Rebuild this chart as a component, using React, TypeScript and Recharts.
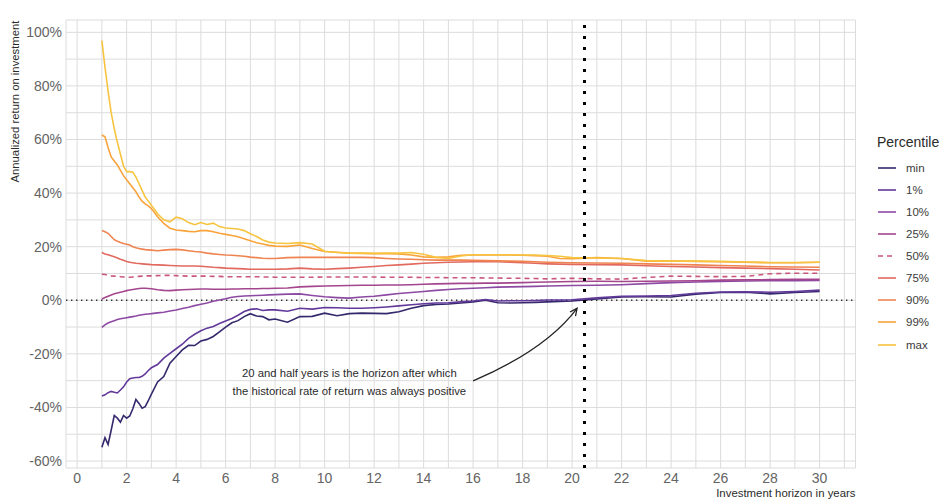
import React from 'react';
import { LineChart, Line, XAxis, YAxis, CartesianGrid, ReferenceLine, ReferenceDot } from 'recharts';

const horizons = [
  1, 1.125, 1.25, 1.375, 1.5, 1.625, 1.75, 1.875, 2, 2.125, 2.25, 2.375, 2.5, 2.625, 2.75, 2.875, 3,
  3.25, 3.5, 3.75, 4, 4.25, 4.5, 4.75, 5, 5.25, 5.5, 5.75, 6, 6.25, 6.5, 6.75, 7, 7.25, 7.5, 7.75, 8,
  8.5, 9, 9.5, 10, 10.5, 11, 11.5, 12, 12.5, 13, 13.5, 14, 14.5, 15, 15.5, 16, 16.5, 17, 17.5, 18, 18.5, 19, 19.5, 20,
  21, 22, 23, 24, 25, 26, 27, 28, 29, 30,
];

const pMin = [
  -54.9, -51.3, -53.8, -48.5, -43.0, -44.0, -45.5, -43.0, -44.0, -43.2, -40.5, -37.0, -38.5, -40.3, -39.7, -37.5, -35.0,
  -30.5, -28.5, -23.5, -21.0, -18.5, -16.8, -16.9, -15.2, -14.6, -13.5, -11.8, -10.0, -8.4, -7.6, -6.1, -5.0, -5.9, -6.1, -7.3, -7.0,
  -8.2, -6.1, -6.0, -4.8, -5.8, -5.0, -4.8, -4.9, -5.0, -4.3, -3.0, -2.0, -1.6, -1.4, -1.0, -0.6, 0.0, -0.9, -1.0, -0.9, -0.8, -0.6, -0.4, -0.3,
  0.5, 1.2, 1.3, 1.2, 2.3, 2.9, 3.0, 2.4, 2.9, 3.3,
];

const p1 = [
  -35.7, -35.3, -34.5, -34.0, -34.3, -34.6, -33.5, -32.3, -30.5, -29.3, -29.0, -28.8, -28.8, -28.4, -27.5, -26.2, -25.2,
  -24.0, -21.6, -19.8, -18.1, -16.4, -14.2, -12.7, -11.4, -10.4, -9.8, -8.7, -7.7, -6.8, -5.6, -4.2, -3.4, -3.2, -3.8, -3.6, -3.6,
  -4.1, -3.0, -3.3, -2.7, -2.8, -3.0, -3.0, -2.8, -2.5, -2.1, -1.7, -1.3, -1.0, -0.9, -0.6, -0.3, 0.3, -0.3, -0.2, -0.2, -0.1, 0.1, 0.1, 0.2,
  0.9, 1.5, 1.6, 1.8, 2.6, 3.1, 3.2, 3.0, 3.3, 3.8,
];

const p10 = [
  -10.1, -9.2, -8.5, -8.0, -7.6, -7.2, -6.9, -6.7, -6.5, -6.3, -6.1, -5.9, -5.6, -5.4, -5.2, -5.1, -5.0,
  -4.7, -4.5, -4.0, -3.6, -3.1, -2.6, -2.0, -1.5, -1.0, -0.4, 0.1, 0.6, 1.1, 1.4, 1.6, 1.7, 1.8, 1.9, 2.0, 2.1,
  2.3, 2.4, 1.8, 1.3, 1.0, 0.8, 1.2, 1.5, 2.0, 2.5, 2.9, 3.3, 3.7, 4.0, 4.3, 4.5, 4.7, 4.9, 5.0, 5.1, 5.2, 5.3, 5.4, 5.5,
  5.6, 5.8, 6.2, 6.6, 6.8, 7.0, 7.2, 7.3, 7.3, 7.4,
];

const p25 = [
  0.5, 1.0, 1.5, 2.0, 2.4, 2.7, 3.0, 3.3, 3.6, 3.8, 4.0, 4.2, 4.4, 4.5, 4.5, 4.4, 4.3,
  3.9, 3.7, 3.6, 3.8, 3.9, 4.0, 4.1, 4.2, 4.2, 4.1, 4.1, 4.1, 4.2, 4.2, 4.3, 4.3, 4.3, 4.4, 4.4, 4.5,
  4.6, 5.0, 5.2, 5.3, 5.4, 5.5, 5.6, 5.6, 5.7, 5.7, 5.8, 6.0, 6.1, 6.2, 6.3, 6.3, 6.4, 6.4, 6.5, 6.6, 6.7, 6.8, 6.9, 7.0,
  7.1, 7.0, 7.1, 7.2, 7.3, 7.5, 7.6, 7.7, 7.8, 7.8,
];

const p50 = [
  9.7, 9.6, 9.3, 9.1, 9.0, 8.9, 8.8, 8.7, 8.6, 8.6, 8.7, 8.8, 8.9, 9.0, 9.1, 9.1, 9.1,
  9.2, 9.3, 9.3, 9.2, 9.1, 9.0, 9.0, 9.0, 9.0, 8.9, 8.9, 8.8, 8.8, 8.8, 8.8, 8.8, 8.8, 8.7, 8.7, 8.6,
  8.6, 8.6, 8.6, 8.7, 8.7, 8.7, 8.7, 8.7, 8.6, 8.6, 8.6, 8.5, 8.5, 8.4, 8.4, 8.4, 8.3, 8.3, 8.2, 8.2, 8.1, 8.0, 8.1, 8.2,
  8.0, 7.9, 8.5, 9.0, 8.9, 8.8, 8.9, 9.9, 10.1, 10.1,
];

const p75 = [
  17.8, 17.3, 17.0, 16.6, 16.2, 15.8, 15.3, 14.9, 14.5, 14.2, 14.0, 13.8, 13.7, 13.6, 13.5, 13.4, 13.3,
  13.2, 13.1, 13.0, 12.9, 12.8, 12.8, 12.8, 12.7, 12.5, 12.3, 12.2, 12.0, 11.9, 11.8, 11.7, 11.6, 11.6, 11.6, 11.6, 11.6,
  11.7, 12.0, 11.7, 11.6, 11.8, 12.0, 12.3, 12.6, 13.0, 13.2, 13.5, 13.8, 14.0, 14.2, 14.3, 14.4, 14.4, 14.4, 14.2, 14.0, 13.8, 13.6, 13.5, 13.4,
  13.3, 13.2, 12.9, 12.6, 12.4, 12.2, 12.0, 11.8, 11.6, 11.3,
];

const p90 = [
  26.0, 25.6, 25.0, 23.8, 22.6, 22.0, 21.6, 21.2, 20.9, 20.6, 20.0, 19.6, 19.3, 19.1, 18.9, 18.8, 18.7,
  18.5, 18.7, 18.9, 19.0, 18.8, 18.5, 18.2, 18.0, 17.6, 17.3, 17.1, 16.9, 16.8, 16.6, 16.4, 16.1, 15.9, 15.7, 15.6, 15.6,
  15.9, 16.0, 16.0, 16.0, 16.0, 16.0, 16.0, 15.9, 15.6, 15.4, 15.3, 15.1, 15.0, 15.0, 15.0, 14.9, 14.8, 14.7, 14.6, 14.5, 14.4, 14.2, 14.1, 14.0,
  13.9, 13.8, 13.6, 13.4, 13.2, 13.0, 12.8, 12.5, 12.4, 12.3,
];

const p99 = [
  61.7, 61.0, 57.0, 53.5, 52.0, 50.5, 48.5, 46.5, 45.0, 43.5, 42.0, 40.5, 38.5, 37.0, 36.0, 35.2, 34.2,
  31.2, 28.7, 26.9, 26.2, 26.0, 25.7, 25.6, 26.0, 26.0, 25.6, 25.0, 24.6, 24.2, 23.7, 23.0, 22.2, 21.5, 21.0, 20.5, 20.2,
  20.1, 20.6, 19.3, 18.2, 17.9, 17.6, 17.5, 17.4, 17.4, 17.3, 16.9, 16.2, 16.0, 16.2, 16.8, 16.9, 16.9, 16.9, 16.9, 16.8, 16.6, 16.4, 15.6, 15.5,
  15.9, 15.6, 14.6, 14.7, 14.5, 14.4, 14.2, 14.0, 14.0, 14.2,
];

const pMax = [
  96.9, 87.0, 78.0, 70.0, 64.0, 59.0, 54.5, 50.0, 48.0, 48.0, 47.8, 46.0, 43.5, 41.0, 38.5, 37.0, 35.5,
  32.3, 30.0, 29.3, 31.0, 30.4, 29.0, 28.2, 29.0, 28.3, 28.8, 27.5, 27.0, 26.8, 26.6, 26.0, 24.8, 23.8, 22.5, 21.7, 21.4,
  21.2, 21.5, 21.0, 18.3, 17.8, 17.6, 17.6, 17.5, 17.6, 17.6, 17.8, 17.2, 16.0, 15.6, 16.5, 17.0, 17.0, 17.0, 17.0, 16.9, 16.9, 16.7, 16.4, 15.9,
  15.8, 15.6, 14.8, 14.6, 14.6, 14.5, 14.3, 14.1, 14.1, 14.2,
];

const xTicks = Array.from({ length: 32 }, (_, i) => i);
const yTicks = [-60, -50, -40, -30, -20, -10, 0, 10, 20, 30, 40, 50, 60, 70, 80, 90, 100];

const seriesNames = ['min', '1%', '10%', '25%', '50%', '75%', '90%', '99%', 'max'];
const seriesValues = [pMin, p1, p10, p25, p50, p75, p90, p99, pMax];
const seriesColors = ['#36286c', '#62399a', '#8c4aa3', '#a4468e', '#c9577c', '#e1695f', '#ef8450', '#f9a33b', '#f7c43f'];
const seriesDash = [undefined, undefined, undefined, undefined, '5 4', undefined, undefined, undefined, undefined];

const annotationLines = [
  '20 and half years is the horizon after which',
  'the historical rate of return was always positive',
];

const data = horizons.map((h, i) => {
  const row: Record<string, number> = { h };
  seriesNames.forEach((n, k) => {
    row[n] = seriesValues[k][i];
  });
  return row;
});

const FONT = '"Liberation Sans", Arial, sans-serif';

const CurvedArrow = (props: any) => {
  const { x1, y1, x2, y2 } = props;
  const cx = x1 + 0.7 * (x2 - x1);
  const cy = y1 + 0.43 * (y2 - y1);
  const dx = x2 - cx;
  const dy = y2 - cy;
  const len = Math.sqrt(dx * dx + dy * dy) || 1;
  const ux = dx / len;
  const uy = dy / len;
  const L = 8;
  const ang = Math.PI / 7;
  const rot = (a: number) => [ux * Math.cos(a) - uy * Math.sin(a), ux * Math.sin(a) + uy * Math.cos(a)];
  const [ax, ay] = rot(ang);
  const [bx, by] = rot(-ang);
  return (
    <g>
      <path d={`M${x1},${y1} Q${cx},${cy} ${x2},${y2}`} fill="none" stroke="#222" strokeWidth={1.3} />
      <path
        d={`M${x2 - L * ax},${y2 - L * ay} L${x2},${y2} L${x2 - L * bx},${y2 - L * by}`}
        fill="none"
        stroke="#222"
        strokeWidth={1.3}
      />
    </g>
  );
};

const AnnotationText = (props: any) => {
  const { cx, cy } = props;
  return (
    <text x={cx} y={cy} textAnchor="middle" fontFamily={FONT} fontSize={11.3} fill="#2a2a2a">
      <tspan x={cx} dy={-8.8 + 4}>{annotationLines[0]}</tspan>
      <tspan x={cx} dy={17.5}>{annotationLines[1]}</tspan>
    </text>
  );
};

const YLabel = (props: any) => {
  const vb = props.viewBox || { x: 0, y: 20 };
  const x = 15;
  const y = vb.y + 0.5;
  return (
    <text
      x={x}
      y={y}
      transform={`rotate(-90 ${x} ${y})`}
      textAnchor="end"
      dominantBaseline="central"
      fontFamily={FONT}
      fontSize={11.3}
      fill="#2a2a2a"
    >
      Annualized return on investment
    </text>
  );
};

const XLabel = (props: any) => {
  const vb = props.viewBox || { x: 66, y: 468, width: 790 };
  const x = vb.x + vb.width;
  return (
    <text x={x} y={497} textAnchor="end" fontFamily={FONT} fontSize={11.4} fill="#2a2a2a">
      Investment horizon in years
    </text>
  );
};

const legendTop = 167.7;
const legendStep = 22.1;

export default function App() {
  return (
    <div style={{ position: 'absolute', left: 0, top: 0, width: 948, height: 499, background: '#fff', fontFamily: FONT }}>
      <LineChart width={948} height={499} data={data} margin={{ top: 20, right: 92.5, bottom: 0, left: 0 }}>
        <CartesianGrid stroke="#dcdcdc" strokeWidth={1} />
        <XAxis
          dataKey="h"
          type="number"
          domain={[-0.45, 31.45]}
          allowDataOverflow
          ticks={xTicks}
          interval={0}
          tickFormatter={(v: number) => (v % 2 === 0 && v <= 30 ? String(v) : '')}
          axisLine={false}
          tickLine={false}
          tickSize={0}
          tickMargin={5}
          height={31}
          tick={{ fill: '#646464', fontSize: 14, fontFamily: FONT }}
          label={{ content: XLabel }}
        />
        <YAxis
          type="number"
          domain={[-62.6, 104.6]}
          allowDataOverflow
          ticks={yTicks}
          interval={0}
          tickFormatter={(v: number) => (v % 20 === 0 ? `${v}%` : '')}
          axisLine={false}
          tickLine={false}
          tickSize={0}
          tickMargin={4}
          width={66}
          tick={{ fill: '#646464', fontSize: 14, fontFamily: FONT }}
          label={{ content: YLabel }}
        />
        <ReferenceLine y={0} stroke="#333" strokeWidth={1.4} strokeDasharray="1.4 3.6" />
        {seriesNames.map((n, k) => (
          <Line
            key={n}
            dataKey={n}
            name={n}
            type="linear"
            stroke={seriesColors[k]}
            strokeWidth={1.6}
            strokeDasharray={seriesDash[k]}
            dot={false}
            activeDot={false}
            isAnimationActive={false}
          />
        ))}
        <ReferenceLine x={20.5} stroke="#000" strokeWidth={3} strokeDasharray="3 8" />
        <ReferenceLine
          segment={[
            { x: 16, y: -30.1 },
            { x: 20.2, y: -3 },
          ]}
          shape={CurvedArrow}
        />
        <ReferenceDot x={11} y={-30.5} r={0} shape={AnnotationText} />
      </LineChart>
      <div
        style={{
          position: 'absolute',
          left: 877,
          top: 133,
          fontSize: 14,
          lineHeight: '18px',
          color: '#2a2a2a',
          whiteSpace: 'nowrap',
        }}
      >
        Percentile
      </div>
      {seriesNames.map((n, k) => (
        <div
          key={n}
          style={{
            position: 'absolute',
            left: 876,
            top: legendTop + k * legendStep - 8,
            height: 16,
            display: 'flex',
            alignItems: 'center',
            whiteSpace: 'nowrap',
          }}
        >
          <svg width={22} height={16} style={{ display: 'block' }}>
            <line
              x1={2}
              y1={8}
              x2={20}
              y2={8}
              stroke={seriesColors[k]}
              strokeWidth={1.6}
              strokeDasharray={seriesDash[k]}
            />
          </svg>
          <span style={{ marginLeft: 8, fontSize: 11.5, color: '#3a3a3a', lineHeight: '16px' }}>{n}</span>
        </div>
      ))}
    </div>
  );
}
